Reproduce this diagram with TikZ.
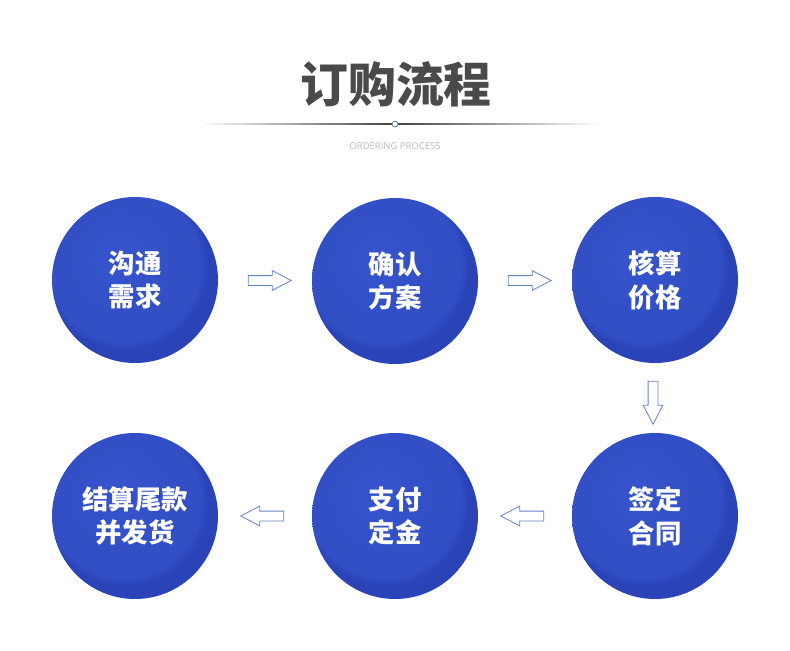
\documentclass[tikz,border=0pt]{standalone}
\usepackage{fontspec}
\setmainfont{Open Sans}
\newfontfamily\cjk{Noto Sans CJK SC}
\usetikzlibrary{shapes.arrows,calc}
\definecolor{bA}{RGB}{54,84,204}
\definecolor{bB}{RGB}{50,79,198}
\definecolor{bC}{RGB}{42,68,184}
\definecolor{titlegray}{RGB}{74,74,74}
\definecolor{subgray}{RGB}{185,185,185}
\definecolor{arrowblue}{RGB}{100,130,200}
\definecolor{lineblue}{RGB}{90,120,180}
\pgfdeclareradialshading{btn}{\pgfpoint{-6bp}{8bp}}{color(0bp)=(bA); color(16bp)=(bB); color(23bp)=(bB); color(25bp)=(bC); color(50bp)=(bC)}
\tikzset{
  stepcircle/.style={circle, minimum size=166bp, inner sep=0pt, shading=btn,
    text=white, font=\cjk\bfseries\fontsize{26.5}{34}\selectfont, align=center},
  blockarrow/.style={single arrow, draw=arrowblue, line width=0.8bp, fill=white,
    minimum height=43bp, inner xsep=0pt, inner ysep=4.5bp,
    single arrow head extend=5bp, single arrow tip angle=55},
}
\begin{document}
\begin{tikzpicture}[x=1bp,y=-1bp]
\fill[white] (0,0) rectangle (790,651);
\useasboundingbox (0,0) rectangle (790,651);
% title
\node[text=titlegray, font=\cjk\bfseries\fontsize{48}{52}\selectfont] (title) at (396,84) {订购流程};
\shade[left color=white, right color=darkgray] (200,123.6) rectangle (395,124.6);
\shade[left color=darkgray, right color=white] (395,123.6) rectangle (600,124.6);
\node[circle, draw=lineblue, fill=white, line width=0.7bp, minimum size=6bp, inner sep=0pt] (dot) at (395,124.1) {};
\node[text=subgray, font=\fontsize{9.5}{11}\selectfont] (sub) at (395,146) {ORDERING PROCESS};
% circles
\node[stepcircle] (c1) at (135,280) {沟通\\需求};
\node[stepcircle] (c2) at (395,281) {确认\\方案};
\node[stepcircle] (c3) at (655,280) {核算\\价格};
\node[stepcircle] (c6) at (655,516) {签定\\合同};
\node[stepcircle] (c5) at (395,516) {支付\\定金};
\node[stepcircle] (c4) at (135,516) {结算尾款\\并发货};
% arrows
\node[blockarrow] (a12) at ($(c1)!0.5!(c2)$) {};
\node[blockarrow] (a23) at ($(c2)!0.5!(c3)$) {};
\node[blockarrow, rotate=-90] (a36) at ($(c3)!0.5!(c6)+(-2,0)$) {};
\node[blockarrow, shape border rotate=180] (a65) at ($(c6)!0.5!(c5)+(2,0)$) {};
\node[blockarrow, shape border rotate=180] (a54) at ($(c5)!0.5!(c4)+(2,0)$) {};
\end{tikzpicture}
\end{document}
